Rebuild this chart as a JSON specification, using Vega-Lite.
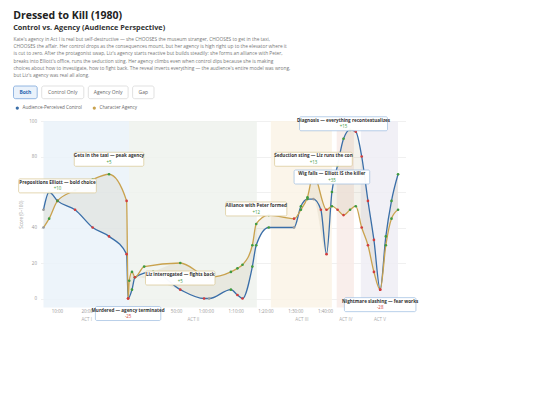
{
  "$schema": "https://vega.github.io/schema/vega-lite/v6.json",
  "background": "white",
  "padding": {"left": 12.5, "top": 11, "right": 5, "bottom": 5},
  "config": {
    "font": "Open Sans",
    "view": {"stroke": null},
    "axis": {"labelOverlap": false, "labelFontSize": 4.5, "labelColor": "#999", "titleFontSize": 4.5, "titleColor": "#999", "titleFontWeight": "normal", "domain": false, "ticks": false},
    "axisX": {"grid": false, "labelPadding": 1.5},
    "axisY": {"grid": true, "gridColor": "#e6e6e6", "gridWidth": 0.6, "labelPadding": 4, "titlePadding": 5}
  },
  "title": {"text": "Dressed to Kill (1980)", "subtitle": "Control vs. Agency (Audience Perspective)", "anchor": "start", "fontSize": 10.5, "fontWeight": "bold", "color": "#222", "subtitleFontSize": 7.3, "subtitleFontWeight": "bold", "subtitleColor": "#333", "subtitlePadding": 2, "offset": 5},
  "datasets": {
    "curve": [
      {"t": 5.5, "control": 50, "agency": 40},
      {"t": 7.4, "control": 60, "agency": 45},
      {"t": 10.2, "control": 55, "agency": 55},
      {"t": 16.1, "control": 50, "agency": 61},
      {"t": 22.0, "control": 40, "agency": 67},
      {"t": 27.5, "control": 35, "agency": 70},
      {"t": 33.4, "control": 25, "agency": 55},
      {"t": 33.9, "control": 0, "agency": 0},
      {"t": 34.3, "control": null, "agency": 10},
      {"t": 35.2, "control": 5, "agency": 15},
      {"t": 36.2, "control": 12, "agency": 12},
      {"t": 39.3, "control": null, "agency": 18},
      {"t": 42.3, "control": 15, "agency": null},
      {"t": 51.4, "control": 5, "agency": 20},
      {"t": 59.4, "control": 0, "agency": 13},
      {"t": 61.1, "control": 0, "agency": 12},
      {"t": 68.4, "control": 5, "agency": 15},
      {"t": 70.6, "control": 2, "agency": 17},
      {"t": 72.3, "control": 0, "agency": 19},
      {"t": 75.6, "control": 18, "agency": 30},
      {"t": 76.9, "control": 30, "agency": 42},
      {"t": 81.1, "control": 40, "agency": 47},
      {"t": 89.6, "control": 40, "agency": 45},
      {"t": 91.9, "control": 52, "agency": 50},
      {"t": 94.1, "control": 56, "agency": 57},
      {"t": 96.1, "control": 56, "agency": 70},
      {"t": 98.6, "control": 50, "agency": null},
      {"t": 100.5, "control": 25, "agency": 50},
      {"t": 102.3, "control": 60, "agency": 52},
      {"t": 104.2, "control": 75, "agency": 50},
      {"t": 106.2, "control": 90, "agency": 47},
      {"t": 108.4, "control": 95, "agency": 50},
      {"t": 110.3, "control": 94, "agency": 52},
      {"t": 112.3, "control": 80, "agency": 40},
      {"t": 114.4, "control": 55, "agency": 30},
      {"t": 116.4, "control": 33, "agency": 15},
      {"t": 118.5, "control": 5, "agency": 5},
      {"t": 120.4, "control": 35, "agency": 30},
      {"t": 122.3, "control": 55, "agency": 45},
      {"t": 124.5, "control": 70, "agency": 50}
    ],
    "acts": [
      {"act": "ACT I", "start": 5.5, "end": 34.2},
      {"act": "ACT II", "start": 34.2, "end": 77.1},
      {"act": "ACT III", "start": 81.8, "end": 102.3},
      {"act": "ACT IV", "start": 103.9, "end": 109.7},
      {"act": "ACT V", "start": 112, "end": 124.5}
    ],
    "notes": [
      {"t": 10.2, "value": 55, "label": "Prepositions Elliott — bold choice", "delta": "+10", "series": "agency", "pos": "above"},
      {"t": 27.5, "value": 70, "label": "Gets in the taxi — peak agency", "delta": "+5", "series": "agency", "pos": "above"},
      {"t": 33.9, "value": 0, "label": "Murdered — agency terminated", "delta": "-25", "series": "control", "pos": "below"},
      {"t": 51.4, "value": 20, "label": "Liz interrogated — fights back", "delta": "+5", "series": "agency", "pos": "below"},
      {"t": 76.9, "value": 42, "label": "Alliance with Peter formed", "delta": "+12", "series": "agency", "pos": "above"},
      {"t": 96.1, "value": 70, "label": "Seduction sting — Liz runs the con", "delta": "+13", "series": "agency", "pos": "above"},
      {"t": 102.3, "value": 60, "label": "Wig falls — Elliott IS the killer", "delta": "+35", "series": "control", "pos": "above"},
      {"t": 106.2, "value": 90, "label": "Diagnosis — everything recontextualizes", "delta": "+15", "series": "control", "pos": "above"},
      {"t": 118.5, "value": 5, "label": "Nightmare slashing — fear works", "delta": "-28", "series": "control", "pos": "below"}
    ],
    "buttons": [
      {"button": "Both", "order": 1, "active": true},
      {"button": "Control Only", "order": 2, "active": false},
      {"button": "Agency Only", "order": 3, "active": false},
      {"button": "Gap", "order": 4, "active": false}
    ],
    "paragraph": [
      {"line": 1, "text": "Kate's agency in Act I is real but self-destructive — she CHOOSES the museum stranger, CHOOSES to get in the taxi,"},
      {"line": 2, "text": "CHOOSES the affair. Her control drops as the consequences mount, but her agency is high right up to the elevator where it"},
      {"line": 3, "text": "is cut to zero. After the protagonist swap, Liz's agency starts reactive but builds steadily: she forms an alliance with Peter,"},
      {"line": 4, "text": "breaks into Elliott's office, runs the seduction sting. Her agency climbs even when control dips because she is making"},
      {"line": 5, "text": "choices about how to investigate, how to fight back. The reveal inverts everything — the audience's entire model was wrong,"},
      {"line": 6, "text": "but Liz's agency was real all along."}
    ]
  },
  "spacing": 5,
  "vconcat": [
    {
      "width": 300,
      "height": 43.8,
      "data": {"name": "paragraph"},
      "mark": {"type": "text", "fontSize": 4.8, "color": "#777", "align": "left", "baseline": "middle"},
      "encoding": {
        "x": {"datum": 0, "type": "quantitative", "scale": {"domain": [0, 1]}, "axis": null},
        "y": {"field": "line", "type": "ordinal", "scale": {"paddingInner": 0, "paddingOuter": 0}, "axis": null},
        "text": {"field": "text"}
      }
    },
    {
      "width": 142,
      "height": 12.7,
      "data": {"name": "buttons"},
      "transform": [
        {"calculate": "length(datum.button) * 2.3 + 14.5", "as": "w"},
        {"calculate": "datum.w + 4.5", "as": "step"},
        {"window": [{"op": "sum", "field": "step", "as": "cum"}], "sort": [{"field": "order"}], "frame": [null, 0]},
        {"calculate": "datum.cum - datum.step", "as": "x0"},
        {"calculate": "datum.x0 + datum.w", "as": "x1"},
        {"calculate": "(datum.x0 + datum.x1) / 2", "as": "xm"}
      ],
      "layer": [
        {
          "mark": {"type": "rect", "cornerRadius": 2, "strokeWidth": 0.7},
          "encoding": {
            "x": {"field": "x0", "type": "quantitative", "scale": {"domain": [0, 142], "nice": false, "zero": false}, "axis": null},
            "x2": {"field": "x1"},
            "fill": {"condition": {"test": "datum.active", "value": "#eaf2fb"}, "value": "white"},
            "stroke": {"condition": {"test": "datum.active", "value": "#6b9bd6"}, "value": "#d4d4d4"}
          }
        },
        {
          "transform": [{"filter": "datum.active"}],
          "mark": {"type": "text", "fontSize": 5, "fontWeight": "bold", "baseline": "middle", "color": "#2e69b0"},
          "encoding": {"x": {"field": "xm", "type": "quantitative", "axis": null}, "text": {"field": "button"}}
        },
        {
          "transform": [{"filter": "!datum.active"}],
          "mark": {"type": "text", "fontSize": 5, "baseline": "middle", "color": "#666"},
          "encoding": {"x": {"field": "xm", "type": "quantitative", "axis": null}, "text": {"field": "button"}}
        }
      ]
    },
    {
      "spacing": 0,
      "hconcat": [
        {
          "width": 1,
          "height": 1,
          "data": {"values": [{"k": 1}]},
          "mark": {"type": "point", "opacity": 0, "size": 0},
          "encoding": {}
        },
        {
          "width": 365,
          "height": 186.4,
          "layer": [
            {
              "data": {"name": "acts"},
              "mark": {"type": "rect", "opacity": 0.85},
              "encoding": {
                "x": {"field": "start", "type": "quantitative", "scale": {"domain": [4.5, 127], "nice": false, "zero": false}},
                "x2": {"field": "end"},
                "fill": {"field": "act", "type": "nominal", "scale": {"domain": ["ACT I", "ACT II", "ACT III", "ACT IV", "ACT V"], "range": ["#eaf2f9", "#eff2ed", "#faf3e6", "#f8ebe7", "#efedf5"]}, "legend": null}
              }
            },
            {
              "data": {"name": "curve"},
              "transform": [{"filter": "datum.control != null && datum.agency != null"}],
              "mark": {"type": "area", "interpolate": "monotone", "color": "#b3a47a", "opacity": 0.14},
              "encoding": {
                "x": {"field": "t", "type": "quantitative"},
                "y": {"field": "control", "type": "quantitative"},
                "y2": {"field": "agency"}
              }
            },
            {
              "data": {"name": "curve"},
              "transform": [
                {"fold": ["control", "agency"], "as": ["series", "value"]},
                {"filter": "datum.value != null"}
              ],
              "mark": {"type": "line", "interpolate": "monotone", "strokeWidth": 1.3},
              "encoding": {
                "x": {"field": "t", "type": "quantitative", "scale": {"domain": [4.5, 127], "nice": false, "zero": false},
                  "axis": {
                    "values": [10, 20, 50, 60, 70, 80, 90, 100, 19.85, 55.65, 92.05, 106.8, 118.25],
                    "tickCount": 60,
                    "labelExpr": "datum.value % 1 != 0 ? ['', datum.value < 30 ? 'ACT I' : (datum.value < 80 ? 'ACT II' : (datum.value < 100 ? 'ACT III' : (datum.value < 110 ? 'ACT IV' : 'ACT V')))] : (datum.value < 60 ? datum.value + ':00' : floor(datum.value / 60) + ':' + (datum.value % 60 < 10 ? '0' : '') + (datum.value % 60) + ':00')",
                    "labelColor": {"condition": {"test": "datum.value % 1 != 0", "value": "#aaa"}, "value": "#999"},
                    "labelLineHeight": 7.3,
                    "labelBaseline": "top",
                    "labelOverlap": false,
                    "title": null
                  }},
                "y": {"field": "value", "type": "quantitative", "scale": {"domain": [-5, 100], "nice": false, "zero": false},
                  "axis": {"values": [0, 20, 40, 60, 80, 100], "tickCount": 60, "labelExpr": "datum.value == 60 ? '' : datum.label", "labelOverlap": false, "title": "Score (0–100)"}},
                "color": {"field": "series", "type": "nominal", "scale": {"domain": ["control", "agency"], "range": ["#3a6ea8", "#c9a24e"]},
                  "legend": {"orient": "none", "legendX": -25.5, "legendY": -15.5, "direction": "horizontal", "title": null, "symbolType": "circle", "symbolSize": 2.5, "symbolStrokeWidth": 1.7, "labelFontSize": 4.6, "labelColor": "#666", "columnPadding": 8, "labelOffset": 3, "padding": 0, "labelExpr": "datum.value == 'control' ? 'Audience-Perceived Control' : 'Character Agency'"}}
              }
            },
            {
              "data": {"name": "curve"},
              "transform": [
                {"fold": ["control", "agency"], "as": ["series", "value"]},
                {"filter": "datum.value != null"},
                {"window": [{"op": "lag", "field": "value", "as": "prev"}], "groupby": ["series"], "sort": [{"field": "t"}]},
                {"calculate": "datum.prev == null ? 'flat' : (datum.value > datum.prev ? 'up' : (datum.value < datum.prev ? 'down' : 'flat'))", "as": "dir"}
              ],
              "mark": {"type": "circle", "size": 7, "opacity": 1},
              "encoding": {
                "x": {"field": "t", "type": "quantitative"},
                "y": {"field": "value", "type": "quantitative"},
                "fill": {"field": "dir", "type": "nominal", "scale": {"domain": ["up", "down", "flat"], "range": ["#3f9a3f", "#d23c3c", "#9a9a9a"]}, "legend": null}
              }
            },
            {
              "data": {"name": "notes"},
              "transform": [
                {"calculate": "(length(datum.label) * 2.05 + 8) / 2 / 2.9796", "as": "hw"},
                {"calculate": "datum.t - datum.hw", "as": "x0"},
                {"calculate": "datum.t + datum.hw", "as": "x1"},
                {"calculate": "datum.value + (datum.pos == 'above' ? 15 : -15) / 1.7752", "as": "yc"},
                {"calculate": "datum.yc - 7 / 1.7752", "as": "y0"},
                {"calculate": "datum.yc + 7 / 1.7752", "as": "y1"}
              ],
              "mark": {"type": "rect", "fill": "white", "fillOpacity": 0.96, "strokeWidth": 0.7, "cornerRadius": 1.5},
              "encoding": {
                "x": {"field": "x0", "type": "quantitative"},
                "x2": {"field": "x1"},
                "y": {"field": "y0", "type": "quantitative"},
                "y2": {"field": "y1"},
                "stroke": {"field": "series", "type": "nominal", "scale": {"domain": ["control", "agency"], "range": ["#9bbbe0", "#d8c590"]}, "legend": null}
              }
            },
            {
              "data": {"name": "notes"},
              "transform": [
                {"calculate": "datum.value + (datum.pos == 'above' ? 15 : -15) / 1.7752 + 2.8 / 1.7752", "as": "ylab"}
              ],
              "mark": {"type": "text", "fontSize": 4.6, "fontWeight": "bold", "color": "#333", "baseline": "middle"},
              "encoding": {
                "x": {"field": "t", "type": "quantitative"},
                "y": {"field": "ylab", "type": "quantitative"},
                "text": {"field": "label"}
              }
            },
            {
              "data": {"name": "notes"},
              "transform": [
                {"calculate": "datum.value + (datum.pos == 'above' ? 15 : -15) / 1.7752 - 3.6 / 1.7752", "as": "ydel"},
                {"calculate": "substring(datum.delta, 0, 1) == '+' ? 'up' : 'down'", "as": "dir"}
              ],
              "mark": {"type": "text", "fontSize": 4.4, "baseline": "middle"},
              "encoding": {
                "x": {"field": "t", "type": "quantitative"},
                "y": {"field": "ydel", "type": "quantitative"},
                "text": {"field": "delta"},
                "fill": {"field": "dir", "type": "nominal", "scale": {"domain": ["up", "down"], "range": ["#3f9a3f", "#d23c3c"]}, "legend": null}
              }
            }
          ],
          "resolve": {"scale": {"fill": "independent", "stroke": "independent", "color": "independent"}}
        }
      ]
    }
  ]
}
